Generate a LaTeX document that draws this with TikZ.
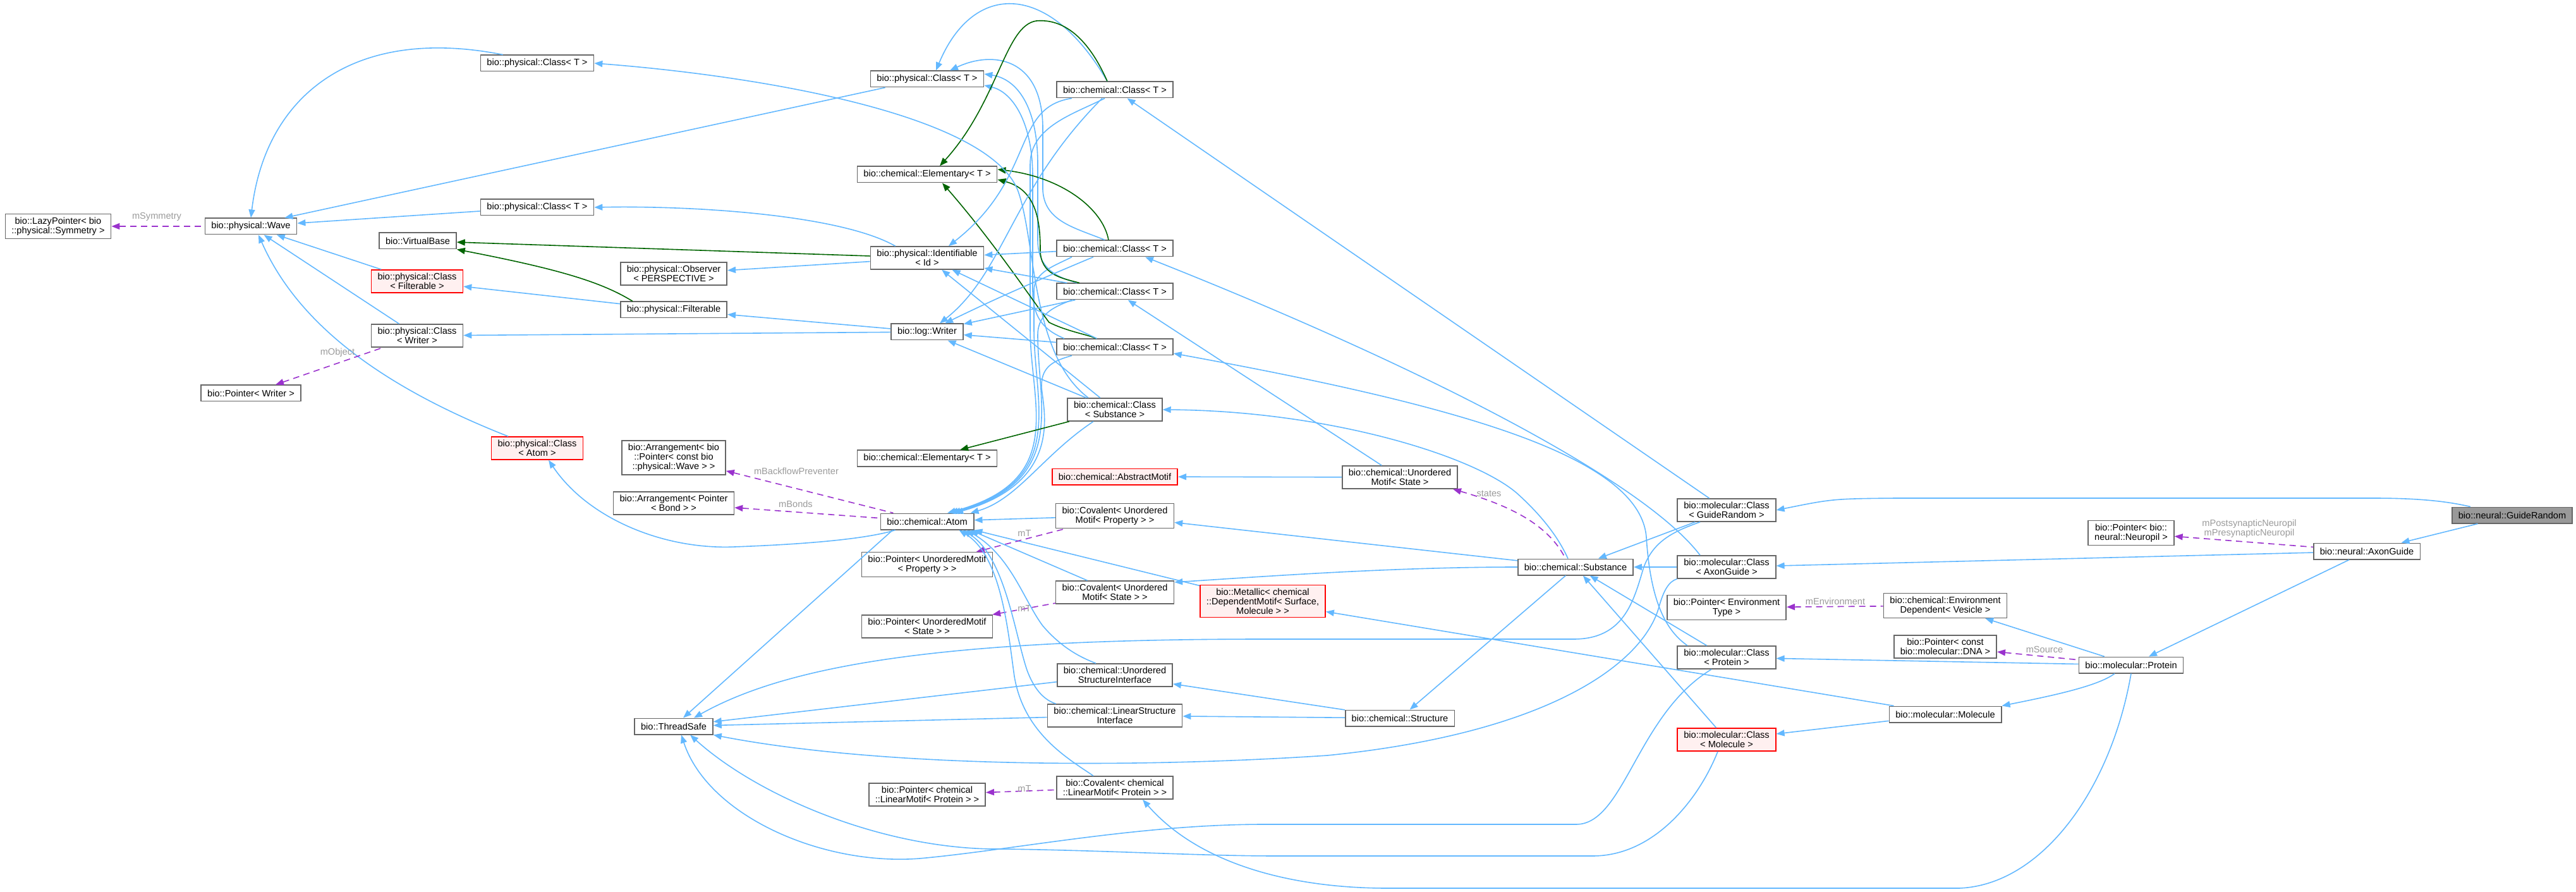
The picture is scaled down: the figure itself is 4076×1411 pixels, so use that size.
\documentclass[tikz,border=0pt]{standalone}
\usepackage{fontspec}
\newfontfamily\doxfont{Liberation Sans}
\usetikzlibrary{arrows.meta,positioning}
\definecolor{inhblue}{HTML}{63B8FF}
\definecolor{protgreen}{HTML}{006400}
\definecolor{usepurple}{HTML}{9A32CD}
\definecolor{lblgray}{HTML}{9A9A9A}
\definecolor{boxgray}{HTML}{666666}
\definecolor{missfill}{HTML}{FFF0F0}
\definecolor{mainfill}{HTML}{999999}

\begin{document}
\begin{tikzpicture}[x=0.5pt,y=-0.5pt]
            \tikzstyle{cls}=[rectangle,draw=boxgray,fill=white,line width=0.8pt,font=\doxfont\fontsize{7.3}{7.6}\selectfont,align=center,inner xsep=5pt,inner ysep=2.5pt,minimum height=12.7pt]
            \tikzstyle{lbl}=[font=\doxfont\fontsize{7.3}{7.6}\selectfont,text=lblgray,align=center,inner sep=0pt]

            \tikzstyle{miss}=[cls,draw=red,fill=missfill]    % incomplete class
            \tikzstyle{focus}=[cls,fill=mainfill]            % documented class

            \tikzstyle{inh}=[color=inhblue,line width=0.8pt,{Triangle[length=6.5pt,width=5pt]}-]   % public
            \tikzstyle{prot}=[inh,color=protgreen]                                                 % protected
            \tikzstyle{usage}=[color=usepurple,line width=0.8pt,dash pattern=on 5pt off 3.5pt,{Triangle[length=6.5pt,width=5pt]}-]

            \useasboundingbox (0,0) rectangle (4076,1411);

            \node[focus] (1) at (3975,815) {bio::neural::GuideRandom};
            \node[cls] (2) at (3745,872) {bio::neural::AxonGuide};
            \node[cls] (3) at (3372,843) {bio::Pointer< bio::\\neural::Neuropil >};
            \node[cls] (4) at (3372,1052) {bio::molecular::Protein};
            \node[cls] (5) at (3078,958) {bio::chemical::Environment\\Dependent< Vesicle >};
            \node[cls] (6) at (3078,1023) {bio::Pointer< const\\bio::molecular::DNA >};
            \node[cls] (7) at (3078,1130) {bio::molecular::Molecule};
            \node[cls] (8) at (2732,807) {bio::molecular::Class\\< GuideRandom >};
            \node[cls] (9) at (2732,897) {bio::molecular::Class\\< AxonGuide >};
            \node[cls] (10) at (2732,961) {bio::Pointer< Environment\\Type >};
            \node[cls] (11) at (2732,1040) {bio::molecular::Class\\< Protein >};
            \node[miss] (12) at (2732,1170) {bio::molecular::Class\\< Molecule >};
            \node[cls] (13) at (2493,897) {bio::chemical::Substance};
            \node[cls] (14) at (2215,755) {bio::chemical::Unordered\\Motif< State >};
            \node[cls] (15) at (2215,1136) {bio::chemical::Structure};
            \node[miss] (16) at (1998,951) {bio::Metallic< chemical\\::DependentMotif< Surface,\\ Molecule > >};
            \node[cls] (17) at (1764,142) {bio::chemical::Class< T >};
            \node[cls] (18) at (1764,393) {bio::chemical::Class< T >};
            \node[cls] (19) at (1764,461) {bio::chemical::Class< T >};
            \node[cls] (20) at (1764,549) {bio::chemical::Class< T >};
            \node[cls] (21) at (1764,648) {bio::chemical::Class\\< Substance >};
            \node[miss] (22) at (1764,754) {bio::chemical::AbstractMotif};
            \node[cls] (23) at (1764,816) {bio::Covalent< Unordered\\Motif< Property > >};
            \node[cls] (24) at (1764,937) {bio::Covalent< Unordered\\Motif< State > >};
            \node[cls] (25) at (1764,1068) {bio::chemical::Unordered\\StructureInterface};
            \node[cls] (26) at (1764,1132) {bio::chemical::LinearStructure\\Interface};
            \node[cls] (27) at (1764,1246) {bio::Covalent< chemical\\::LinearMotif< Protein > >};
            \node[cls] (28) at (1467,125) {bio::physical::Class< T >};
            \node[cls] (29) at (1467,276) {bio::chemical::Elementary< T >};
            \node[cls] (30) at (1467,408) {bio::physical::Identifiable\\< Id >};
            \node[cls] (31) at (1467,525) {bio::log::Writer};
            \node[cls] (32) at (1467,725) {bio::chemical::Elementary< T >};
            \node[cls] (33) at (1467,825) {bio::chemical::Atom};
            \node[cls] (34) at (1467,893) {bio::Pointer< UnorderedMotif\\< Property > >};
            \node[cls] (35) at (1467,991) {bio::Pointer< UnorderedMotif\\< State > >};
            \node[cls] (36) at (1467,1257) {bio::Pointer< chemical\\::LinearMotif< Protein > >};
            \node[cls] (37) at (1066,433) {bio::physical::Observer\\< PERSPECTIVE >};
            \node[cls] (38) at (1066,490) {bio::physical::Filterable};
            \node[cls] (39) at (1066,724) {bio::Arrangement< bio\\::Pointer< const bio\\::physical::Wave > >};
            \node[cls] (40) at (1066,796) {bio::Arrangement< Pointer\\< Bond > >};
            \node[cls] (41) at (1066,1149) {bio::ThreadSafe};
            \node[cls] (42) at (850,100) {bio::physical::Class< T >};
            \node[cls] (43) at (850,328) {bio::physical::Class< T >};
            \node[miss] (44) at (850,709) {bio::physical::Class\\< Atom >};
            \node[cls] (45) at (661,381) {bio::VirtualBase};
            \node[miss] (46) at (660,445) {bio::physical::Class\\< Filterable >};
            \node[cls] (47) at (660,531) {bio::physical::Class\\< Writer >};
            \node[cls] (48) at (397,358) {bio::physical::Wave};
            \node[cls] (49) at (397,622) {bio::Pointer< Writer >};
            \node[cls] (50) at (92,358) {bio::LazyPointer< bio\\::physical::Symmetry >};

            % neural / molecular side
            \path[inh] (2) edge (1);
            \draw[inh] (8.east) .. controls (2900,789) .. (3000,788) -- (3755,788) .. controls (3840,788) and (3880,795) .. ([xshift=15pt]1.north west);
            \path[inh] (9) edge (2);
            \path[usage] (3) edge (2);
            \node[lbl] (l1) at (3559,836) {mPostsynapticNeuropil\\mPresynapticNeuropil};
            \path[inh] (4) edge (2);
            \path[inh] (5) edge (4);
            \path[usage] (6) edge (4);
            \node[lbl] (l2) at (3235,1027) {mSource};
            \path[inh] (11) edge (4);
            \draw[inh] (7.north east) .. controls (3250,1100) and (3320,1085) .. ([xshift=-13pt]4.south);
            \draw[inh] ([xshift=22pt]27.south) .. controls (1900,1370) and (2050,1405) .. (2195,1405) -- (3100,1405) .. controls (3230,1400) and (3340,1250) .. (4.south);
            \path[usage] (10) edge (5);
            \node[lbl] (l3) at (2904,951) {mEnvironment};
            \path[inh] (12) edge (7);
            \path[inh] (16) edge (7);

            \path[inh] (13) edge (8);
            \path[inh] (17) edge (8);
            \draw[inh] ([xshift=16pt]41.north) .. controls (1250,1050) and (1500,1011) .. (2000,1011) -- (2490,1011) .. controls (2570,1011) and (2585,950) .. (2600,900) .. controls (2615,855) and (2650,840) .. ([xshift=-21pt]8.south);
            \path[inh] (13) edge (9);
            \draw[inh] ([xshift=24pt]18.south) .. controls (2250,580) and (2600,760) .. ([xshift=-21pt]9.north);
            \draw[inh] (41.south east) .. controls (1400,1215) and (1800,1215) .. (2100,1195) .. controls (2450,1160) and (2600,1050) .. (2625,960) .. controls (2632,935) and (2640,920) .. (9.south west);
            \path[inh] (13) edge (11);
            \draw[inh] ([yshift=-5pt]20.east) .. controls (2300,640) and (2595,720) .. (2605,850) .. controls (2612,960) and (2640,1000) .. ([xshift=-31pt]11.north);
            \draw[inh] ([xshift=6pt]41.south) .. controls (1120,1290) and (1300,1370) .. (1455,1358) .. controls (1600,1345) and (1800,1304) .. (2000,1304) -- (2494,1304) .. controls (2570,1304) and (2590,1130) .. ([xshift=-12pt]11.south);
            \path[inh] (13) edge (12);
            \draw[inh] ([xshift=13pt]41.south) .. controls (1200,1260) and (1400,1345) .. (1585,1343) .. controls (1750,1345) and (1900,1354) .. (2020,1354) -- (2520,1354) .. controls (2620,1354) and (2690,1260) .. ([xshift=-7pt]12.south);

            % substance
            \path[inh] (15) edge (13);
            \draw[inh] (21.east) .. controls (2100,650) and (2330,720) .. (2400,780) .. controls (2450,825) and (2470,860) .. ([xshift=-6pt]13.north);
            \path[inh] (23) edge (13);
            \draw[inh] ([yshift=8pt]24.east) .. controls (2000,912) and (2200,897) .. (13.west);
            \draw[usage] ([xshift=-4pt]14.south east) .. controls (2390,800) and (2450,830) .. ([xshift=-8pt]13.north);
            \node[lbl] (l4) at (2356,781) {states};
            \path[inh] (26) edge (15);
            \path[inh] (25) edge (15);
            \path[inh] (22) edge (14);
            \path[inh] (19) edge (14);

            % atom
            \path[inh] (33.south east) edge (16);
            \path[inh] (33) edge (23);
            \path[usage] (34) edge (23);
            \node[lbl] (l5) at (1621,843) {mT};
            \path[inh] ([xshift=-3pt]33.south east) edge (24);
            \path[usage] (35) edge (24);
            \node[lbl] (l6) at (1621,962) {mT};
            \draw[inh] ([xshift=-6pt]33.south east) .. controls (1600,880) and (1620,950) .. (1650,990) .. controls (1680,1025) and (1710,1040) .. ([xshift=-15pt]25.north);
            \draw[inh] ([xshift=-9pt]33.south east) .. controls (1590,880) and (1605,1000) .. (1625,1060) .. controls (1638,1095) and (1655,1108) .. ([xshift=7pt]26.north west);
            \draw[inh] ([xshift=-12pt]33.south east) .. controls (1585,880) and (1595,1000) .. (1605,1070) .. controls (1620,1160) and (1690,1200) .. ([xshift=-17pt]27.north);
            \path[usage] (36) edge (27);
            \node[lbl] (l7) at (1621,1247) {mT};
            \path[inh] (41) edge (25);
            \path[inh] (41) edge (26);
            \path[inh] (41) edge ([xshift=10pt]33.south west);
            \draw[inh] ([xshift=9pt]44.south) .. controls (930,820) and (1050,870) .. (1163,865) .. controls (1300,860) and (1380,850) .. ([xshift=12pt]33.south west);
            \path[usage] (39) edge (33);
            \node[lbl] (l8) at (1260,745) {mBackflowPreventer};
            \path[usage] (40) edge (33);
            \node[lbl] (l9) at (1259,797) {mBonds};

            % chemical classes
            \draw[inh] ([xshift=16pt]33.north) .. controls (1690,760) and (1630,640) .. (1630,520) -- (1630,260) .. controls (1630,200) and (1700,180) .. ([xshift=-8pt]17.south);
            \draw[inh] ([xshift=18pt]33.north) .. controls (1690,760) and (1636,640) .. (1636,520) -- (1636,460) .. controls (1636,430) and (1670,420) .. ([xshift=-34pt]18.south);
            \draw[inh] ([xshift=20pt]33.north) .. controls (1690,760) and (1642,640) .. (1642,530) .. controls (1642,495) and (1670,485) .. ([xshift=-34pt]19.south);
            \draw[inh] ([xshift=22pt]33.north) .. controls (1690,760) and (1648,640) .. (1648,610) .. controls (1648,578) and (1670,570) .. ([xshift=-34pt]20.south);
            \draw[inh] ([xshift=-3pt]33.north east) .. controls (1610,790) and (1650,720) .. ([xshift=-17pt]21.south);
            \path[prot] (32) edge (21);

            \draw[inh] ([xshift=7pt]28.north) .. controls (1540,-30) and (1660,-30) .. ([xshift=-6pt]17.north);
            \draw[inh] ([xshift=18pt]28.north) .. controls (1570,80) and (1648,90) .. (1650,200) -- (1650,300) .. controls (1652,350) and (1700,360) .. ([xshift=-8pt]18.north);
            \draw[inh] ([yshift=4pt]28.east) .. controls (1610,125) and (1642,170) .. (1642,260) -- (1642,380) .. controls (1642,430) and (1680,440) .. ([xshift=-30pt]19.north);
            \draw[inh] ([yshift=-5pt]28.east) .. controls (1600,145) and (1634,190) .. (1634,280) -- (1634,460) .. controls (1634,510) and (1660,525) .. ([xshift=-40pt]20.north);

            \draw[prot] ([xshift=10pt]29.north) .. controls (1580,160) and (1590,40) .. (1640,33) .. controls (1700,28) and (1735,90) .. ([xshift=-6pt]17.north);
            \draw[prot] ([yshift=4pt]29.east) .. controls (1680,280) and (1745,330) .. ([xshift=-5pt]18.north);
            \draw[prot] ([yshift=-4pt]29.east) .. controls (1640,300) and (1646,350) .. (1646,395) .. controls (1646,435) and (1680,440) .. ([xshift=-28pt]19.north);
            \draw[prot] ([xshift=12pt]29.south) .. controls (1570,380) and (1630,470) .. (1660,510) .. controls (1690,525) and (1725,530) .. ([xshift=-15pt]20.north);

            \draw[inh] ([xshift=17pt]30.north) .. controls (1640,280) and (1600,170) .. ([xshift=-34pt]17.south);
            \path[inh] (30) edge (18);
            \path[inh] (30) edge (19);
            \path[inh] (30) edge (20);
            \path[inh] (30) edge (21);

            \draw[inh] ([xshift=10pt]31.north) .. controls (1590,430) and (1600,300) .. ([xshift=-10pt]17.south);
            \draw[inh] ([xshift=14pt]31.north) .. controls (1580,470) and (1650,440) .. ([xshift=-17pt]18.south);
            \path[inh] (31) edge (19);
            \path[inh] (31) edge (20);
            \path[inh] (31) edge (21);

            \draw[inh] (42.east) .. controls (1200,120) and (1560,180) .. (1610,300) .. controls (1640,380) and (1630,560) .. ([xshift=-21pt]21.north);

            % physical side
            \path[inh] (37) edge (30);
            \path[prot] (45) edge (30);
            \draw[prot] (45.south east) .. controls (880,425) and (950,445) .. ([xshift=10pt]38.north west);
            \path[inh] (46) edge (38);
            \path[inh] (38) edge (31);
            \path[inh] (47) edge (31);
            \draw[inh] (43.east) .. controls (1100,325) and (1330,340) .. ([xshift=20pt]30.north west);

            \draw[inh] (48.north) .. controls (420,150) and (560,40) .. ([xshift=18pt]42.north west);
            \path[inh] ([xshift=-10pt]48.north east) edge ([xshift=12pt]28.south west);
            \path[inh] (48) edge (43);
            \path[inh] (48) edge (46);
            \path[inh] (48) edge (47);
            \draw[inh] ([xshift=6pt]48.south) .. controls (470,510) and (600,610) .. ([xshift=-23pt]44.north);
            \path[usage] (50) edge (48);
            \node[lbl] (l10) at (248,343) {mSymmetry};
            \path[usage] (49) edge (47);
            \node[lbl] (l11) at (534,558) {mObject};
        \end{tikzpicture}
\end{document}
